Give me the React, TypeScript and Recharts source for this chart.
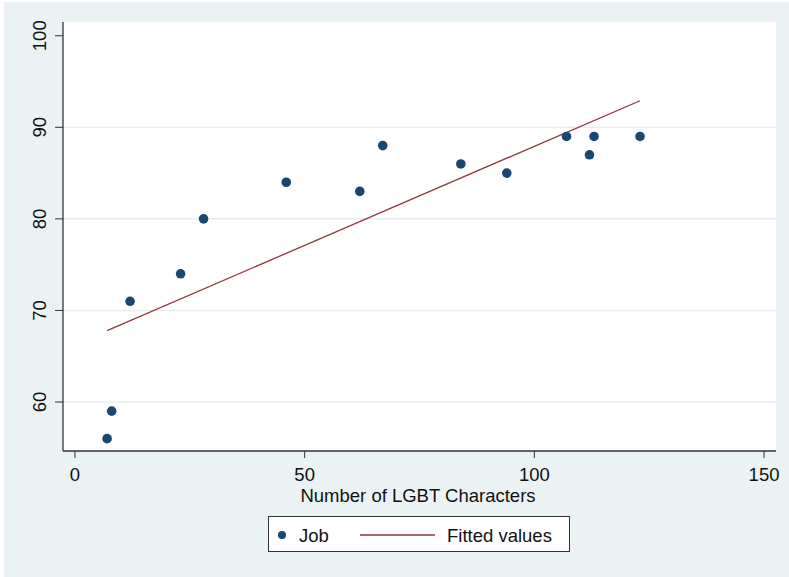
import React from 'react';
import {
  ComposedChart, Scatter, Line, XAxis, YAxis, CartesianGrid, Label
} from 'recharts';

// LGBT characters vs. job score, with a linear fit
const characters = [7, 8, 12, 23, 28, 46, 62, 67, 84, 94, 107, 112, 113, 123];
const jobScores = [56, 59, 71, 74, 80, 84, 83, 88, 86, 85, 89, 87, 89, 89];

// end points of the fitted line
const fitX = [7, 123];
const fitY = [67.8, 92.9];

const xTicks = [0, 50, 100, 150];
const yTicks = [60, 70, 80, 90, 100];
const gridValues = [60, 70, 80, 90];

const NAVY = '#1a476f';
const MAROON = '#90353b';
const PANEL = '#eaf2f3';
const FONT = '"Liberation Sans", Arial, sans-serif';

const points = characters.map((x, i) => ({ x, y: jobScores[i] }));
const fitted = fitX.map((x, i) => ({ x, y: fitY[i] }));

const YTick = (props: any) => {
  const { y, payload } = props;
  return (
    <text
      x={40}
      y={y}
      transform={`rotate(-90, 40, ${y})`}
      textAnchor="middle"
      dominantBaseline="central"
      fontSize={18.5}
      fontFamily={FONT}
      fill="#111"
    >
      {payload.value}
    </text>
  );
};

const XTick = (props: any) => {
  const { x, payload } = props;
  return (
    <text x={x} y={481} textAnchor="middle" fontSize={18.5} fontFamily={FONT} fill="#111">
      {payload.value}
    </text>
  );
};

const Dot = (props: any) => {
  const { cx, cy } = props;
  return <circle cx={cx} cy={cy} r={4.8} fill={NAVY} />;
};

export default function App() {
  return (
    <div style={{ position: 'relative', width: 789, height: 577, background: '#fff' }}>
      <style>{'body { margin: 0; }'}</style>
      <div style={{ position: 'absolute', left: 4, top: 2, width: 785, height: 575, background: PANEL }} />
      <div style={{ position: 'absolute', left: 63, top: 22, width: 713, height: 429, background: '#fff' }} />
      <div style={{ position: 'absolute', left: 0, top: 0 }}>
        <ComposedChart width={789} height={577} margin={{ top: 22, right: 13, left: 0, bottom: 0 }}>
          <CartesianGrid
            vertical={false}
            horizontalValues={gridValues}
            stroke="#e6eeef"
            strokeWidth={1.5}
          />
          <XAxis
            type="number"
            dataKey="x"
            domain={[-2.6, 152.6]}
            ticks={xTicks}
            allowDataOverflow
            height={126}
            tickSize={7}
            tick={<XTick />}
            axisLine={{ stroke: '#333', strokeWidth: 1.3 }}
            tickLine={{ stroke: '#333' }}
          >
            <Label
              content={() => (
                <text x={418} y={502} textAnchor="middle" fontSize={18.5} fontFamily={FONT} fill="#111">
                  Number of LGBT Characters
                </text>
              )}
            />
          </XAxis>
          <YAxis
            type="number"
            dataKey="y"
            domain={[54.65, 101.5]}
            ticks={yTicks}
            allowDataOverflow
            width={63}
            tickSize={8}
            tick={<YTick />}
            axisLine={{ stroke: '#333', strokeWidth: 1.3 }}
            tickLine={{ stroke: '#333' }}
          />
          <Line
            data={fitted}
            dataKey="y"
            type="linear"
            stroke={MAROON}
            strokeWidth={1.3}
            dot={false}
            activeDot={false}
            isAnimationActive={false}
          />
          <Scatter data={points} dataKey="y" shape={<Dot />} isAnimationActive={false} />
        </ComposedChart>
      </div>
      {/* legend box */}
      <div
        style={{
          position: 'absolute', left: 268, top: 516, width: 300, height: 34,
          background: '#fff', border: '1px solid #333', fontFamily: FONT, fontSize: 18.5, color: '#111'
        }}
      >
        <svg width={300} height={34} style={{ position: 'absolute', left: 0, top: 0 }}>
          <circle cx={13} cy={18} r={4} fill={NAVY} />
          <line x1={91} x2={166} y1={18} y2={18} stroke={MAROON} strokeWidth={1.3} />
          <text x={30} y={25} fontSize={18.5} fontFamily={FONT} fill="#111">Job</text>
          <text x={178} y={25} fontSize={18.5} fontFamily={FONT} fill="#111">Fitted values</text>
        </svg>
      </div>
    </div>
  );
}
